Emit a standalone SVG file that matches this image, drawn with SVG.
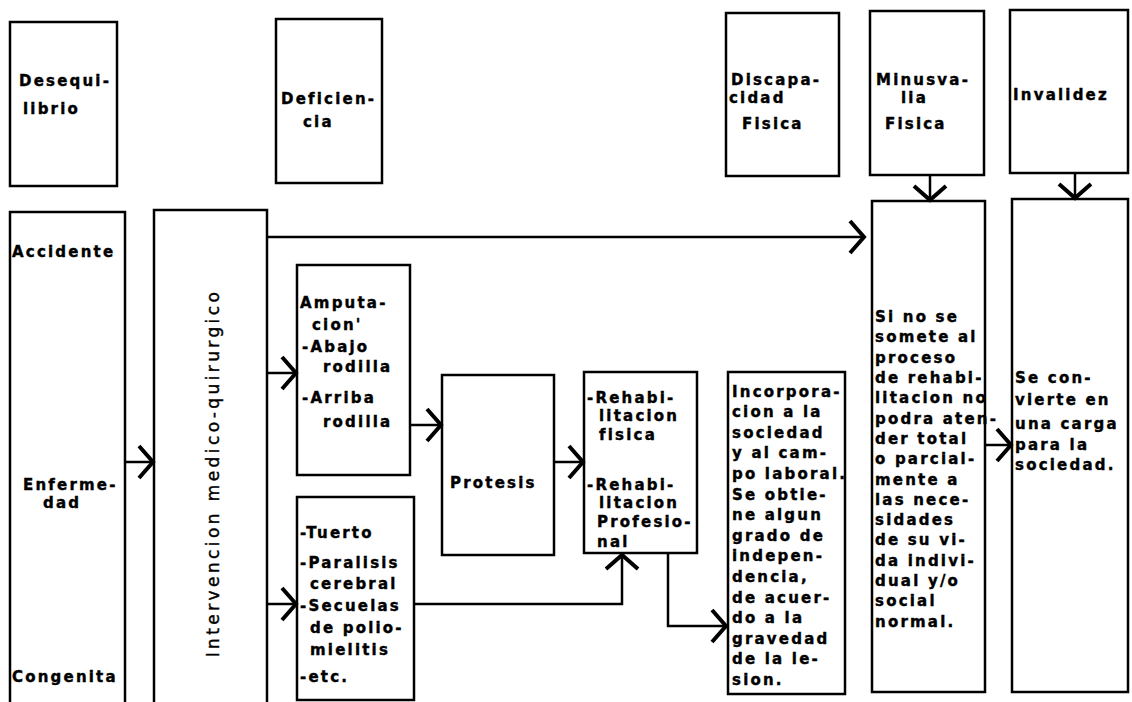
<svg xmlns="http://www.w3.org/2000/svg" width="1132" height="702" viewBox="0 0 1132 702">
<style>
.box{fill:#fff;stroke:#000;stroke-width:2.5}
.t{font-family:"DejaVu Sans",sans-serif;font-weight:bold;font-size:15px;letter-spacing:2.2px;fill:#000;stroke:#000;stroke-width:0.4}
.v{font-family:"DejaVu Sans",sans-serif;font-size:17px;letter-spacing:3.4px;fill:#000;stroke:#000;stroke-width:0.4}
.c{fill:none;stroke:#000;stroke-width:2.5}
</style>
<defs>
<marker id="ah" markerUnits="userSpaceOnUse" markerWidth="24" markerHeight="36" viewBox="0 0 24 36" refX="20" refY="18" orient="auto">
<path d="M6,2 L20,18 L6,34" fill="none" stroke="#000" stroke-width="4"/>
</marker>
</defs>
<rect width="1132" height="702" fill="#fff"/>

<g id="desequilibrio"><rect class="box" x="10" y="22" width="107" height="164"/>
<text class="t" x="19" y="86">Desequi-</text><text class="t" x="23" y="114">librio</text></g>

<g id="deficiencia"><rect class="box" x="276" y="19" width="106" height="164"/>
<text class="t" x="281" y="104">Deficien-</text><text class="t" x="303" y="127">cia</text></g>

<g id="discapacidad"><rect class="box" x="726" y="13" width="113" height="163"/>
<text class="t" x="731" y="85">Discapa-</text><text class="t" x="729" y="103">cidad</text><text class="t" x="742" y="129">Fisica</text></g>

<g id="minusvalia"><rect class="box" x="870" y="11" width="114" height="164"/>
<text class="t" x="876" y="85">Minusva-</text><text class="t" x="901" y="103">lia</text><text class="t" x="885" y="129">Fisica</text></g>

<g id="invalidez"><rect class="box" x="1010" y="10" width="118" height="163"/>
<text class="t" x="1013" y="100">Invalidez</text></g>

<g id="causas"><rect class="box" x="10" y="212" width="115" height="500"/>
<text class="t" x="12" y="257">Accidente</text>
<text class="t" x="23" y="490">Enferme-</text><text class="t" x="43" y="508">dad</text>
<text class="t" x="12" y="682">Congenita</text></g>

<g id="intervencion"><rect class="box" x="154" y="210" width="113" height="500"/>
<text class="v" transform="translate(219,473) rotate(-90)" text-anchor="middle">Intervencion medico-quirurgico</text></g>

<g id="amputacion"><rect class="box" x="297" y="265" width="113" height="210"/>
<text class="t" x="300" y="308">Amputa-</text>
<text class="t" x="312" y="330">cion'</text>
<text class="t" x="302" y="352">-Abajo</text>
<text class="t" x="323" y="372">rodilla</text>
<text class="t" x="302" y="403">-Arriba</text>
<text class="t" x="323" y="427">rodilla</text></g>

<g id="tuerto"><rect class="box" x="297" y="497" width="117" height="203"/>
<text class="t" x="300" y="538">-Tuerto</text>
<text class="t" x="300" y="568">-Paralisis</text>
<text class="t" x="310" y="589">cerebral</text>
<text class="t" x="300" y="611">-Secuelas</text>
<text class="t" x="310" y="633">de polio-</text>
<text class="t" x="310" y="655">mielitis</text>
<text class="t" x="300" y="682">-etc.</text></g>

<g id="protesis"><rect class="box" x="442" y="375" width="112" height="180"/>
<text class="t" x="450" y="488">Protesis</text></g>

<g id="rehabilitacion"><rect class="box" x="584" y="372" width="113" height="181"/>
<text class="t" x="587" y="403">-Rehabi-</text>
<text class="t" x="599" y="421">litacion</text>
<text class="t" x="599" y="440">fisica</text>
<text class="t" x="587" y="490">-Rehabi-</text>
<text class="t" x="599" y="508">litacion</text>
<text class="t" x="597" y="527">Profesio-</text>
<text class="t" x="597" y="547">nal</text></g>

<g id="incorporacion"><rect class="box" x="728" y="372" width="117" height="322"/>
<text class="t" x="732" y="397">Incorpora-</text>
<text class="t" x="732" y="417">cion a la</text>
<text class="t" x="732" y="438">sociedad</text>
<text class="t" x="732" y="458">y al cam-</text>
<text class="t" x="732" y="479">po laboral.</text>
<text class="t" x="732" y="500">Se obtie-</text>
<text class="t" x="732" y="520">ne algun</text>
<text class="t" x="732" y="541">grado de</text>
<text class="t" x="732" y="561">indepen-</text>
<text class="t" x="732" y="582">dencia,</text>
<text class="t" x="732" y="603">de acuer-</text>
<text class="t" x="732" y="623">do a la</text>
<text class="t" x="732" y="644">gravedad</text>
<text class="t" x="732" y="664">de la le-</text>
<text class="t" x="732" y="685">sion.</text></g>

<g id="minusvalia-texto"><rect class="box" x="872" y="201" width="113" height="491"/>
<text class="t" x="875" y="322">Si no se</text>
<text class="t" x="875" y="342">somete al</text>
<text class="t" x="875" y="363">proceso</text>
<text class="t" x="875" y="383">de rehabi-</text>
<text class="t" x="875" y="403">litacion no</text>
<text class="t" x="875" y="424">podra aten-</text>
<text class="t" x="875" y="444">der total</text>
<text class="t" x="875" y="464">o parcial-</text>
<text class="t" x="875" y="485">mente a</text>
<text class="t" x="875" y="505">las nece-</text>
<text class="t" x="875" y="525">sidades</text>
<text class="t" x="875" y="545">de su vi-</text>
<text class="t" x="875" y="566">da indivi-</text>
<text class="t" x="875" y="586">dual y/o</text>
<text class="t" x="875" y="606">social</text>
<text class="t" x="875" y="627">normal.</text></g>

<g id="invalidez-texto"><rect class="box" x="1012" y="199" width="116" height="493"/>
<text class="t" x="1015" y="383">Se con-</text>
<text class="t" x="1015" y="405">vierte en</text>
<text class="t" x="1015" y="429">una carga</text>
<text class="t" x="1015" y="450">para la</text>
<text class="t" x="1015" y="470">sociedad.</text></g>

<g id="connectors">
<path class="c" d="M125,462 H153" marker-end="url(#ah)"/>
<path class="c" d="M267,237 H864" marker-end="url(#ah)"/>
<path class="c" d="M267,373 H296" marker-end="url(#ah)"/>
<path class="c" d="M267,604 H296" marker-end="url(#ah)"/>
<path class="c" d="M410,425 H441" marker-end="url(#ah)"/>
<path class="c" d="M554,462 H583" marker-end="url(#ah)"/>
<path class="c" d="M414,604 H622 V555" marker-end="url(#ah)"/>
<path class="c" d="M668,553 V626 H726" marker-end="url(#ah)"/>
<path class="c" d="M930,175 V200" marker-end="url(#ah)"/>
<path class="c" d="M1075,173 V198" marker-end="url(#ah)"/>
<path class="c" d="M985,445 H1011" marker-end="url(#ah)"/>
</g>
</svg>
